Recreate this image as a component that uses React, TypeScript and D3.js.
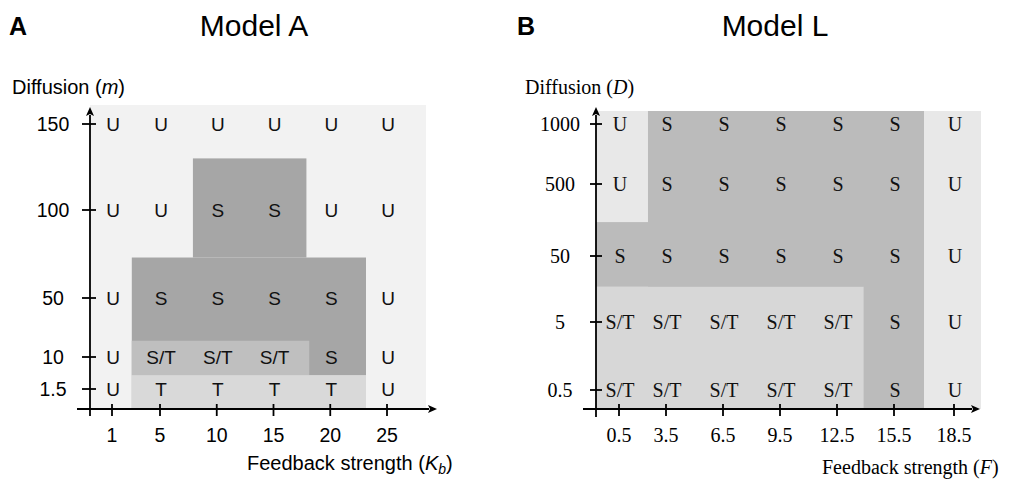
import React from "react";
import * as d3 from "d3";

// ---- Model A: feedback strength Kb vs diffusion m ----
const kbTicks = [1, 5, 10, 15, 20, 25];
const mTicks = [150, 100, 50, 10, 1.5];
const modelAStates = [
  ["U", "U", "U", "U", "U", "U"],
  ["U", "U", "S", "S", "U", "U"],
  ["U", "S", "S", "S", "S", "U"],
  ["U", "S/T", "S/T", "S/T", "S", "U"],
  ["U", "T", "T", "T", "T", "U"],
];
// phase regions over the unstable background (null = runs to the plot edge)
const modelARegions = [
  { phase: "S", x: [2.65, 23.15], y: [null, 73] },
  { phase: "S", x: [7.9, 17.9], y: [73, 130] },
  { phase: "S/T", x: [2.65, 18.15], y: [5.2, 21] },
  { phase: "T", x: [2.65, 23.15], y: [null, 5.2] },
];

// ---- Model L: feedback strength F vs diffusion D ----
const fTicks = [0.5, 3.5, 6.5, 9.5, 12.5, 15.5, 18.5];
const dTicks = [1000, 500, 50, 5, 0.5];
const modelLStates = [
  ["U", "S", "S", "S", "S", "S", "U"],
  ["U", "S", "S", "S", "S", "S", "U"],
  ["S", "S", "S", "S", "S", "S", "U"],
  ["S/T", "S/T", "S/T", "S/T", "S/T", "S", "U"],
  ["S/T", "S/T", "S/T", "S/T", "S/T", "S", "U"],
];
const modelLRegions = [
  { phase: "S", x: [2.35, 17], y: [null, null] },
  { phase: "S", x: [null, 17], y: [29, 262] },
  { phase: "S/T", x: [null, 13.9], y: [null, 29] },
];

type Region = { phase: string; x: (number | null)[]; y: (number | null)[] };

type PanelProps = {
  letter: string;
  letterX: number;
  title: string;
  titleX: number;
  font: string;
  cellFont: number;
  tickFont: number;
  xTicks: number[];
  yTicks: number[];
  xScale: d3.ScaleLinear<number, number>;
  yScale: d3.ScaleLinear<number, number>;
  states: string[][];
  regions: Region[];
  fills: Record<string, string>;
  origin: { x: number; y: number };
  plotRight: number;
  plotTop: number;
  xAxisStart: number;
  xAxisEnd: number;
  yAxisBottom: number;
  yAxisTop: number;
  yTickLabelX: number;
  yLabel: React.ReactNode;
  yLabelX: number;
  xLabel: React.ReactNode;
  xLabelX: number;
  xLabelY: number;
  yTickLeft: number;
  yTickRight: number;
};

function Panel(p: PanelProps) {
  const { origin } = p;
  const clampX = (v: number) => Math.max(origin.x, Math.min(p.plotRight, v));
  const clampY = (v: number) => Math.max(p.plotTop, Math.min(origin.y, v));
  const sw = 1.8;
  const ah = 9;
  const aw = 4;
  return (
    <g>
      <text x={p.letterX} y={35} fontFamily="Liberation Sans, Arial, sans-serif" fontWeight="bold" fontSize={25}>
        {p.letter}
      </text>
      <text x={p.titleX} y={36} textAnchor="middle" fontFamily="Liberation Sans, Arial, sans-serif" fontSize={30}>
        {p.title}
      </text>

      <rect x={origin.x} y={p.plotTop} width={p.plotRight - origin.x} height={origin.y - p.plotTop} fill={p.fills.U} />
      {p.regions.map((r, i) => {
        const x0 = r.x[0] == null ? origin.x : clampX(p.xScale(r.x[0]));
        const x1 = r.x[1] == null ? p.plotRight : clampX(p.xScale(r.x[1]));
        const y0 = r.y[0] == null ? origin.y : clampY(p.yScale(r.y[0]));
        const y1 = r.y[1] == null ? p.plotTop : clampY(p.yScale(r.y[1]));
        return (
          <rect key={i} x={x0} y={Math.min(y0, y1)} width={x1 - x0} height={Math.abs(y0 - y1)} fill={p.fills[r.phase]} />
        );
      })}

      {/* axes */}
      <line x1={p.xAxisStart} y1={origin.y} x2={p.xAxisEnd - ah + 1} y2={origin.y} stroke="#000" strokeWidth={sw} />
      <path
        d={`M${p.xAxisEnd},${origin.y} L${p.xAxisEnd - ah},${origin.y - aw} L${p.xAxisEnd - ah + 2},${origin.y} L${p.xAxisEnd - ah},${origin.y + aw} Z`}
        fill="#000"
      />
      <line x1={origin.x} y1={p.yAxisBottom} x2={origin.x} y2={p.yAxisTop + ah - 1} stroke="#000" strokeWidth={sw} />
      <path
        d={`M${origin.x},${p.yAxisTop} L${origin.x - aw},${p.yAxisTop + ah} L${origin.x},${p.yAxisTop + ah - 2} L${origin.x + aw},${p.yAxisTop + ah} Z`}
        fill="#000"
      />

      {p.yTicks.map((t) => (
        <g key={"y" + t}>
          <line x1={origin.x - p.yTickLeft} x2={origin.x + p.yTickRight} y1={p.yScale(t)} y2={p.yScale(t)} stroke="#000" strokeWidth={sw} />
          <text x={p.yTickLabelX} y={p.yScale(t)} dy="0.35em" textAnchor="middle" fontFamily={p.font} fontSize={p.tickFont}>
            {t}
          </text>
        </g>
      ))}
      {p.xTicks.map((t) => (
        <g key={"x" + t}>
          <line x1={p.xScale(t)} x2={p.xScale(t)} y1={origin.y - 5} y2={origin.y + 7} stroke="#000" strokeWidth={sw} />
          <text x={p.xScale(t)} y={442} textAnchor="middle" fontFamily={p.font} fontSize={p.tickFont}>
            {t}
          </text>
        </g>
      ))}

      {p.states.map((row, i) =>
        row.map((s, j) => (
          <text
            key={i + "-" + j}
            x={p.xScale(p.xTicks[j]) + 1}
            y={p.yScale(p.yTicks[i])}
            dy="0.35em"
            textAnchor="middle"
            fontFamily={p.font}
            fontSize={p.cellFont}
            fill="#111"
          >
            {s}
          </text>
        ))
      )}

      <text x={p.yLabelX} y={94} fontFamily={p.font} fontSize={20}>
        {p.yLabel}
      </text>
      <text x={p.xLabelX} y={p.xLabelY} fontFamily={p.font} fontSize={20}>
        {p.xLabel}
      </text>
    </g>
  );
}

export default function App() {
  const sans = "Liberation Sans, Arial, sans-serif";
  const serif = "Liberation Serif, Times New Roman, serif";

  const xA = d3.scaleLinear().domain([1, 5, 25]).range([112, 160, 387]);
  const yA = d3.scaleLinear().domain([1.5, 10, 50, 100, 150]).range([389, 357, 298, 210, 124]);
  const xB = d3.scaleLinear().domain([0.5, 3.5, 15.5, 18.5]).range([619, 666, 894, 954]);
  const yB = d3.scaleLinear().domain([0.5, 5, 50, 500, 1000]).range([390, 322, 256, 184, 124]);

  return (
    <svg width={1010} height={482} style={{ position: "absolute", left: 0, top: 0, background: "#fff" }}>
      <Panel
        letter="A"
        letterX={9}
        title="Model A"
        titleX={254}
        font={sans}
        cellFont={19}
        tickFont={19.5}
        xTicks={kbTicks}
        yTicks={mTicks}
        xScale={xA}
        yScale={yA}
        states={modelAStates}
        regions={modelARegions}
        fills={{ U: "#f2f2f2", S: "#a6a6a6", "S/T": "#bfbfbf", T: "#d9d9d9" }}
        origin={{ x: 90, y: 409 }}
        plotRight={426}
        plotTop={105}
        xAxisStart={77}
        xAxisEnd={437}
        yAxisBottom={416}
        yAxisTop={107}
        yTickLabelX={53}
        yTickLeft={8}
        yTickRight={6}
        yLabel={
          <>
            Diffusion (<tspan fontStyle="italic">m</tspan>)
          </>
        }
        yLabelX={12}
        xLabel={
          <>
            Feedback strength (<tspan fontStyle="italic">K</tspan>
            <tspan fontStyle="italic" fontSize={14} dy={4}>
              b
            </tspan>
            <tspan dy={-4}>)</tspan>
          </>
        }
        xLabelX={247}
        xLabelY={470}
      />
      <Panel
        letter="B"
        letterX={517}
        title="Model L"
        titleX={775}
        font={serif}
        cellFont={20}
        tickFont={20}
        xTicks={fTicks}
        yTicks={dTicks}
        xScale={xB}
        yScale={yB}
        states={modelLStates}
        regions={modelLRegions}
        fills={{ U: "#e8e8e8", S: "#bbbbbb", "S/T": "#d7d7d7" }}
        origin={{ x: 596, y: 409 }}
        plotRight={981}
        plotTop={111}
        xAxisStart={583}
        xAxisEnd={980}
        yAxisBottom={417}
        yAxisTop={107}
        yTickLabelX={560}
        yTickLeft={6}
        yTickRight={6}
        yLabel={
          <>
            Diffusion (<tspan fontStyle="italic">D</tspan>)
          </>
        }
        yLabelX={525}
        xLabel={
          <>
            Feedback strength (<tspan fontStyle="italic">F</tspan>)
          </>
        }
        xLabelX={822}
        xLabelY={474}
      />
    </svg>
  );
}
